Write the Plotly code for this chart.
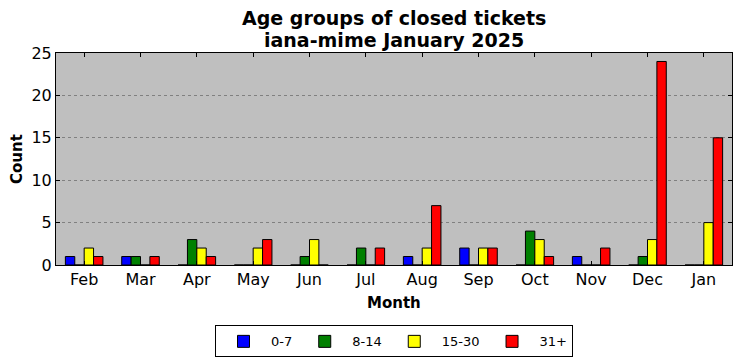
import plotly.graph_objects as go

months = ["Feb", "Mar", "Apr", "May", "Jun", "Jul", "Aug", "Sep", "Oct", "Nov", "Dec", "Jan"]
s_0_7 = [1, 1, 0, 0, 0, 0, 1, 2, 0, 1, 0, 0]
s_8_14 = [0, 1, 3, 0, 1, 2, 0, 0, 4, 0, 1, 0]
s_15_30 = [2, 0, 2, 2, 3, 0, 2, 2, 3, 0, 3, 5]
s_31p = [1, 1, 1, 3, 0, 2, 7, 2, 1, 2, 24, 15]

series = [("0-7", s_0_7, "#0000ff"), ("8-14", s_8_14, "#008000"),
          ("15-30", s_15_30, "#ffff00"), ("31+", s_31p, "#ff0000")]

FONT = "DejaVu Sans"
fig = go.Figure()
for name, vals, col in series:
    fig.add_trace(go.Bar(x=months, y=vals, name=name, marker=dict(color=col, line=dict(color="black", width=1))))

fig.update_layout(
    width=742, height=361,
    barmode="group", bargap=1/3, bargroupgap=0,
    paper_bgcolor="white", plot_bgcolor="#bfbfbf",
    margin=dict(l=56, r=10, t=53, b=96, autoexpand=False),
    font=dict(family=FONT, color="black"),
    legend=dict(orientation="h", x=0.5, xanchor="center", y=-0.285, yanchor="top",
                bordercolor="black", borderwidth=1, bgcolor="white",
                font=dict(size=13, family=FONT), itemwidth=45, traceorder="normal"),
    showlegend=True,
    annotations=[
        dict(text="<b>Age groups of closed tickets</b>", x=0.5, xref="paper", y=1.165, yref="paper",
             xanchor="center", yanchor="middle", showarrow=False, font=dict(size=19)),
        dict(text="<b>iana-mime January 2025</b>", x=0.5, xref="paper", y=1.061, yref="paper",
             xanchor="center", yanchor="middle", showarrow=False, font=dict(size=19)),
        dict(text="<b>Month</b>", x=0.5, xref="paper", y=-0.179, yref="paper",
             xanchor="center", yanchor="middle", showarrow=False, font=dict(size=15)),
        dict(text="<b>Count</b>", x=-0.0577, xref="paper", y=0.5, yref="paper", textangle=-90,
             xanchor="center", yanchor="middle", showarrow=False, font=dict(size=15)),
    ],
)
fig.update_xaxes(range=[-0.5, 11.5], showline=True, linecolor="black", linewidth=1, mirror="ticks",
                 ticks="inside", ticklen=4, tickcolor="black", tickfont=dict(size=16),
                 showgrid=False, automargin=False)
fig.update_yaxes(range=[0, 25], dtick=5, showline=True, linecolor="black", linewidth=1, mirror="ticks",
                 ticks="inside", ticklen=4, tickcolor="black", tickfont=dict(size=16),
                 showgrid=True, gridcolor="#808080", griddash="dot", gridwidth=1, zeroline=False,
                 automargin=False)

fig.write_html("out.html", config={"displayModeBar": False},
               post_script="document.body.style.margin='0';document.body.style.overflow='hidden';")
